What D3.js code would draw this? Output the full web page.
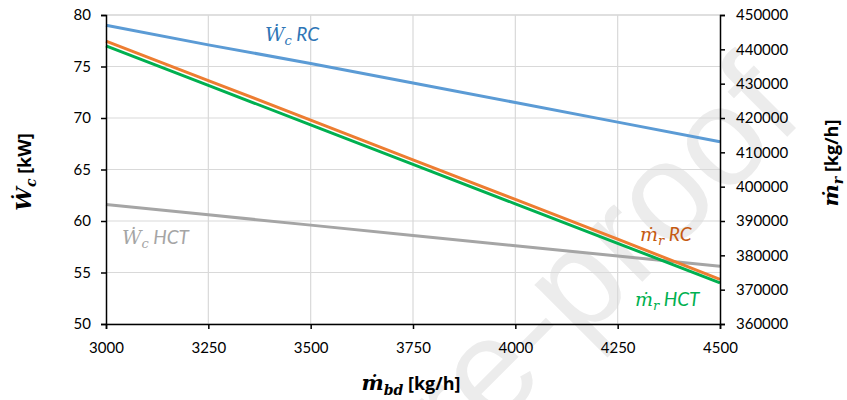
<!DOCTYPE html>
<html>
<head>
<meta charset="utf-8">
<script src="https://cdn.jsdelivr.net/npm/d3@7"></script>
<style>
  body { margin: 0; background: #fff; }
  svg { display: block; }
</style>
</head>
<body>
<svg id="chart" width="847" height="400"></svg>
<script>
// Blowdown mass flow rate [kg/h]
const flowBd = [3000, 3250, 3500, 3750, 4000, 4250, 4500];
// Compressor power [kW]
const powerRC  = [79.0, 77.1, 75.3, 73.4, 71.5, 69.6, 67.7];
const powerHCT = [61.6, 60.6, 59.6, 58.6, 57.6, 56.6, 55.6];
// Refrigerant mass flow rate [kg/h]
const flowRC  = [442400, 430900, 419400, 407800, 396300, 384700, 373000];
const flowHCT = [441000, 429500, 418000, 406500, 395000, 383500, 372000];

const xTicks = [3000, 3250, 3500, 3750, 4000, 4250, 4500];
const yLeftTicks = [50, 55, 60, 65, 70, 75, 80];
const yRightTicks = [360000, 370000, 380000, 390000, 400000, 410000, 420000, 430000, 440000, 450000];

const svg = d3.select("#chart");
const m = { left: 106, right: 720, top: 15, bottom: 324 };
const font = "Lato, 'Open Sans', sans-serif";
const titleFont = "'Open Sans', 'Liberation Sans', sans-serif";
const mathFont = "'DejaVu Serif', 'Liberation Serif', serif";

const x = d3.scaleLinear().domain([3000, 4500]).range([m.left, m.right]);
const yL = d3.scaleLinear().domain([50, 80]).range([m.bottom, m.top]);
const yR = d3.scaleLinear().domain([360000, 450000]).range([m.bottom, m.top]);

// faint background watermark
svg.append("text")
  .attr("transform", "translate(806,118) rotate(-45)")
  .attr("text-anchor", "end")
  .attr("font-family", "'Liberation Sans', Arial, sans-serif")
  .attr("font-size", 140)
  .attr("fill", "#ececec")
  .text("Journal Pre-proof");

// gridlines
const grid = svg.append("g");
grid.selectAll("line.h").data(yLeftTicks).join("line")
  .attr("x1", m.left).attr("x2", m.right)
  .attr("y1", d => yL(d)).attr("y2", d => yL(d))
  .attr("stroke", d => d === 80 ? "#bfbfbf" : "#d9d9d9").attr("stroke-width", 1.2);
grid.selectAll("line.v").data(xTicks.slice(1, -1)).join("line")
  .attr("x1", d => x(d)).attr("x2", d => x(d))
  .attr("y1", m.top).attr("y2", m.bottom)
  .attr("stroke", "#d9d9d9").attr("stroke-width", 1.2);

// series
const series = [
  { vals: powerRC, scale: yL, color: "#5b9bd5" },
  { vals: powerHCT, scale: yL, color: "#a5a5a5" },
  { vals: flowRC, scale: yR, color: "#ed7d31" },
  { vals: flowHCT, scale: yR, color: "#00b050" }
];
series.forEach(s => {
  const line = d3.line().x((d, i) => x(flowBd[i])).y(d => s.scale(d));
  svg.append("path").datum(s.vals)
    .attr("d", line).attr("fill", "none")
    .attr("stroke", s.color).attr("stroke-width", 3);
});

// axes
function styleAxis(g) {
  g.selectAll("path, line").attr("stroke", "#000").attr("stroke-width", 1.5);
  g.selectAll("text").attr("font-family", font).attr("font-size", 15).attr("fill", "#000");
}
svg.append("g").attr("transform", `translate(${m.left},0)`)
  .call(d3.axisLeft(yL).tickValues(yLeftTicks).tickSize(5).tickSizeOuter(5).tickPadding(10))
  .call(styleAxis);
svg.append("g").attr("transform", `translate(${m.right},0)`)
  .call(d3.axisRight(yR).tickValues(yRightTicks).tickSize(5).tickSizeOuter(5).tickPadding(11).tickFormat(d3.format("d")))
  .call(styleAxis);
svg.append("g").attr("transform", `translate(0,${m.bottom})`)
  .call(d3.axisBottom(x).tickValues(xTicks).tickSize(5).tickSizeOuter(5).tickPadding(13).tickFormat(d3.format("d")))
  .call(styleAxis);

// axis titles
function axisTitle(t, sym, sub, unit) {
  t.attr("text-anchor", "middle").attr("font-weight", 700).attr("font-size", 18).attr("font-family", titleFont);
  t.append("tspan").attr("font-family", mathFont).attr("font-style", "italic").attr("font-weight", 700).attr("font-size", 21).text(sym);
  t.append("tspan").attr("font-family", mathFont).attr("font-style", "italic").attr("font-weight", 700).attr("font-size", 14).attr("dy", 5).text(sub);
  t.append("tspan").attr("font-weight", 700).attr("dy", -5).text(" [" + unit + "]");
}
axisTitle(svg.append("text").attr("transform", "translate(31,172) rotate(-90)"), "Ẇ", "c", "kW");
axisTitle(svg.append("text").attr("transform", "translate(838,163) rotate(-90)"), "ṁ", "r", "kg/h");
axisTitle(svg.append("text").attr("x", 411).attr("y", 390), "ṁ", "bd", "kg/h");

// series labels
function seriesLabel(px, py, sym, sub, name, color) {
  const t = svg.append("text").attr("x", px).attr("y", py)
    .attr("font-family", font).attr("font-style", "italic").attr("font-size", 19).attr("fill", color);
  t.append("tspan").attr("font-family", mathFont).attr("font-size", 19).text(sym);
  t.append("tspan").attr("font-family", mathFont).attr("font-size", 13).attr("dy", 4).text(sub);
  t.append("tspan").attr("dy", -4).text(" " + name);
}
seriesLabel(265, 41, "Ẇ", "c", "RC", "#2e75b6");
seriesLabel(122, 244, "Ẇ", "c", "HCT", "#a5a5a5");
seriesLabel(640, 241, "ṁ", "r", "RC", "#c55a11");
seriesLabel(635, 306, "ṁ", "r", "HCT", "#00b050");
</script>
</body>
</html>
